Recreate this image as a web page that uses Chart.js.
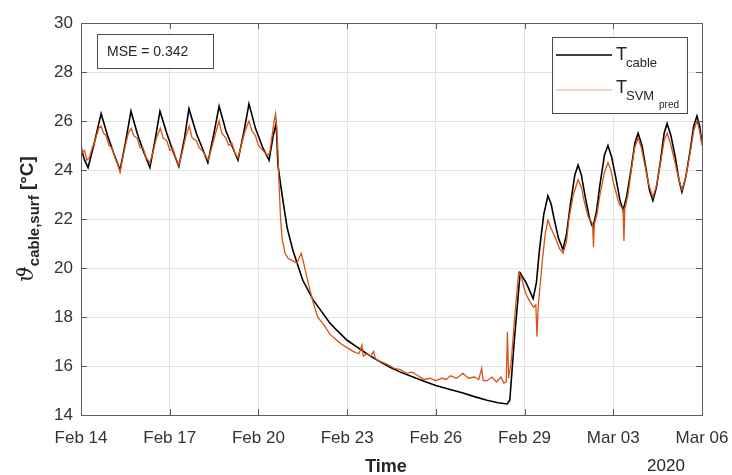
<!DOCTYPE html>
<html>
<head>
<meta charset="utf-8">
<script src="https://cdn.jsdelivr.net/npm/chart.js@4.4.1/dist/chart.umd.min.js"></script>
<style>
  body { margin: 0; background: #fff; }
  canvas { display: block; }
</style>
</head>
<body>
<canvas id="temp" width="732" height="475"></canvas>
<script>
// days since Feb 14 2020
var xTickLabels = ['Feb 14', 'Feb 17', 'Feb 20', 'Feb 23', 'Feb 26', 'Feb 29', 'Mar 03', 'Mar 06'];

var cableDay = [0, 0.12, 0.24, 0.45, 0.68, 0.9, 1.1, 1.32, 1.5, 1.69, 1.9, 2.1, 2.33, 2.5, 2.67, 2.9, 3.1, 3.31,
  3.5, 3.65, 3.9, 4.1, 4.29, 4.48, 4.67, 4.9, 5.1, 5.31, 5.5, 5.68, 5.9, 6.15, 6.36, 6.5, 6.6, 6.66, 6.75, 6.83,
  6.97, 7.17, 7.5, 7.85, 8.15, 8.42, 8.7, 9.0, 9.3, 9.67, 10.0, 10.45, 10.8, 11.23, 11.6, 12.0, 12.45, 12.92,
  13.3, 13.73, 14.1, 14.41, 14.5, 14.65, 14.85, 15.05, 15.29, 15.4, 15.5, 15.65, 15.79, 15.9, 16.0, 16.15, 16.3,
  16.42, 16.55, 16.7, 16.81, 16.92, 17.05, 17.2, 17.31, 17.43, 17.55, 17.7, 17.82, 17.95, 18.1, 18.22, 18.33,
  18.45, 18.6, 18.73, 18.84, 18.97, 19.1, 19.22, 19.34, 19.46, 19.6, 19.72, 19.82, 19.95, 20.1, 20.22, 20.32,
  20.45, 20.6, 20.72, 20.83, 20.92, 21.0];
var cableTemp = [24.9, 24.4, 24.1, 25.1, 26.3, 25.4, 24.7, 24.0, 25.1, 26.4, 25.5, 24.8, 24.1, 25.2, 26.4, 25.5,
  24.8, 24.15, 25.3, 26.5, 25.5, 24.9, 24.3, 25.4, 26.6, 25.6, 25.0, 24.4, 25.5, 26.7, 25.7, 24.9, 24.4, 25.4,
  25.9, 24.2, 23.4, 22.75, 21.65, 20.7, 19.5, 18.7, 18.2, 17.75, 17.4, 17.05, 16.8, 16.5, 16.25, 15.95, 15.75,
  15.55, 15.38, 15.2, 15.05, 14.9, 14.75, 14.6, 14.5, 14.45, 14.6, 17.0, 19.8, 19.4, 18.75, 19.4, 20.7, 22.2,
  22.95, 22.6, 22.0, 21.2, 20.75, 21.4, 22.6, 23.8, 24.2, 23.8, 22.9, 22.0, 21.65, 22.3, 23.4, 24.6, 25.0, 24.5,
  23.6, 22.8, 22.35, 22.9, 24.0, 25.1, 25.5, 25.0, 24.1, 23.2, 22.75, 23.3, 24.4, 25.5, 25.9, 25.4, 24.5, 23.6,
  23.1, 23.7, 24.8, 25.8, 26.2, 25.8, 25.1];

var predDay = [0, 0.06, 0.12, 0.2, 0.28, 0.38, 0.5, 0.6, 0.68, 0.76, 0.85, 0.95, 1.05, 1.15, 1.25, 1.32, 1.38,
  1.5, 1.6, 1.7, 1.78, 1.9, 2.0, 2.1, 2.2, 2.33, 2.45, 2.55, 2.68, 2.78, 2.9, 3.0, 3.1, 3.2, 3.31, 3.42, 3.55,
  3.66, 3.76, 3.9, 4.0, 4.1, 4.2, 4.3, 4.42, 4.55, 4.67, 4.76, 4.9, 5.0, 5.1, 5.2, 5.31, 5.42, 5.55, 5.68, 5.78,
  5.9, 6.0, 6.15, 6.3, 6.38, 6.45, 6.52, 6.58, 6.62, 6.66, 6.7, 6.75, 6.8, 6.9, 7.0, 7.15, 7.3, 7.45, 7.55, 7.7,
  7.85, 8.0, 8.2, 8.42, 8.6, 8.8, 9.0, 9.2, 9.4, 9.5, 9.55, 9.67, 9.8, 9.9, 9.95, 10.1, 10.3, 10.45, 10.6, 10.8,
  11.0, 11.2, 11.4, 11.6, 11.8, 12.0, 12.2, 12.35, 12.5, 12.7, 12.92, 13.1, 13.3, 13.45, 13.55, 13.6, 13.73,
  13.9, 14.05, 14.2, 14.3, 14.38, 14.42, 14.46, 14.55, 14.7, 14.8, 14.9, 15.0, 15.1, 15.2, 15.3, 15.38, 15.42,
  15.46, 15.6, 15.7, 15.79, 15.9, 16.05, 16.18, 16.3, 16.42, 16.5, 16.65, 16.81, 16.92, 17.0, 17.15, 17.3, 17.33,
  17.36, 17.45, 17.55, 17.7, 17.82, 17.92, 18.0, 18.2, 18.33, 18.36, 18.39, 18.5, 18.6, 18.72, 18.84, 18.95,
  19.05, 19.2, 19.34, 19.47, 19.6, 19.72, 19.82, 19.93, 20.05, 20.2, 20.32, 20.45, 20.6, 20.72, 20.83, 20.92, 21.0];
var predTemp = [25.0, 24.7, 24.8, 24.4, 24.5, 24.9, 25.3, 25.7, 25.8, 25.5, 25.4, 25.0, 24.9, 24.5, 24.2, 23.9,
  24.3, 25.0, 25.5, 25.7, 25.4, 25.3, 24.9, 24.9, 24.5, 24.3, 24.8, 25.3, 25.7, 25.3, 25.2, 24.8, 24.9, 24.5,
  24.2, 24.7, 25.4, 25.8, 25.3, 25.2, 24.9, 24.8, 24.6, 24.4, 24.9, 25.5, 26.0, 25.5, 25.3, 25.0, 25.1, 24.7,
  24.5, 25.0, 25.6, 26.0, 25.6, 25.4, 25.0, 24.8, 24.6, 24.7, 25.3, 25.9, 26.3, 25.7, 24.7, 23.3, 22.0, 21.2,
  20.6, 20.4, 20.3, 20.2, 20.6, 20.1, 19.3, 18.6, 18.0, 17.7, 17.3, 17.1, 16.9, 16.75, 16.6, 16.5, 16.85, 16.4,
  16.5, 16.4, 16.6, 16.3, 16.2, 16.1, 16.0, 15.9, 15.85, 15.7, 15.75, 15.6, 15.45, 15.5, 15.4, 15.5, 15.45, 15.6,
  15.5, 15.7, 15.5, 15.55, 15.45, 15.9, 15.4, 15.4, 15.55, 15.35, 15.55, 15.3, 15.35, 17.4, 15.5, 16.2, 18.5,
  19.8, 19.6, 19.1, 18.8, 18.6, 18.4, 18.5, 17.2, 18.4, 20.3, 21.4, 21.95, 21.6, 21.2, 20.8, 20.6, 21.1, 22.0,
  23.0, 23.6, 23.3, 22.8, 22.1, 21.8, 20.85, 21.8, 22.2, 23.0, 23.9, 24.3, 24.0, 23.5, 22.6, 22.4, 21.1, 22.4,
  23.0, 23.9, 24.9, 25.3, 24.9, 24.3, 23.4, 22.9, 23.4, 24.3, 25.2, 25.5, 25.1, 24.5, 23.7, 23.2, 23.7, 24.7,
  25.6, 26.0, 25.6, 25.0];

var mseText = 'MSE = 0.342';

function pts(xs, ys) {
  return xs.map(function (d, i) { return { x: d, y: ys[i] }; });
}

var orange = '#D95319';
var axisColor = '#5c5c5c';
var tickFont = { family: 'Liberation Sans, Arial, sans-serif', size: 17 };

// MATLAB style box, inward ticks, subscript labels, legend and text box
var decor = {
  id: 'decor',
  afterDraw: function (chart) {
    var ctx = chart.ctx, a = chart.chartArea;
    var sx = chart.scales.x, sy = chart.scales.y;
    ctx.save();
    ctx.strokeStyle = axisColor;
    ctx.lineWidth = 1;
    ctx.strokeRect(Math.round(a.left) + 0.5, Math.round(a.top) + 0.5,
      Math.round(a.right - a.left), Math.round(a.bottom - a.top));
    ctx.beginPath();
    sx.ticks.forEach(function (t) {
      var px = Math.round(sx.getPixelForValue(t.value)) + 0.5;
      ctx.moveTo(px, a.bottom); ctx.lineTo(px, a.bottom - 6);
      ctx.moveTo(px, a.top); ctx.lineTo(px, a.top + 6);
    });
    sy.ticks.forEach(function (t) {
      var py = Math.round(sy.getPixelForValue(t.value)) + 0.5;
      ctx.moveTo(a.left, py); ctx.lineTo(a.left + 6, py);
      ctx.moveTo(a.right, py); ctx.lineTo(a.right - 6, py);
    });
    ctx.stroke();

    // MSE box
    ctx.fillStyle = '#fff';
    ctx.fillRect(97, 34, 116, 34);
    ctx.strokeStyle = '#4d4d4d';
    ctx.strokeRect(97.5, 34.5, 116, 34);
    ctx.fillStyle = '#262626';
    ctx.font = '14px Liberation Sans, Arial, sans-serif';
    ctx.textBaseline = 'middle';
    ctx.textAlign = 'left';
    ctx.fillText(mseText, 107, 52);

    // legend
    ctx.fillStyle = '#fff';
    ctx.fillRect(552, 37, 135, 76);
    ctx.strokeStyle = '#4d4d4d';
    ctx.strokeRect(552.5, 37.5, 135, 76);
    ctx.lineWidth = 1.6;
    ctx.strokeStyle = '#000';
    ctx.beginPath(); ctx.moveTo(556, 55); ctx.lineTo(612, 55); ctx.stroke();
    ctx.lineWidth = 1.2;
    ctx.strokeStyle = '#eea47f';
    ctx.beginPath(); ctx.moveTo(556, 90); ctx.lineTo(612, 90); ctx.stroke();
    ctx.fillStyle = '#262626';
    ctx.textBaseline = 'alphabetic';
    ctx.font = '18px Liberation Sans, Arial, sans-serif';
    ctx.fillText('T', 616, 60);
    ctx.fillText('T', 616, 93);
    ctx.font = '13px Liberation Sans, Arial, sans-serif';
    ctx.fillText('cable', 626, 67);
    ctx.fillText('SVM', 626, 100);
    ctx.font = '10px Liberation Sans, Arial, sans-serif';
    ctx.fillText('pred', 659, 108);

    // x label and year
    ctx.font = 'bold 18px Liberation Sans, Arial, sans-serif';
    ctx.textAlign = 'center';
    ctx.fillText('Time', 386, 472);
    ctx.font = '17px Liberation Sans, Arial, sans-serif';
    ctx.fillText('2020', 666, 471);

    // y label, rotated, with subscript
    ctx.translate(34, 219);
    ctx.rotate(-Math.PI / 2);
    ctx.textAlign = 'left';
    var parts = [
      { t: '\u03D1', f: 'italic 22px DejaVu Serif, serif', dy: 0 },
      { t: 'cable,surf', f: 'bold 15px Liberation Sans, Arial, sans-serif', dy: 6 },
      { t: ' [\u00B0C]', f: 'bold 19px Liberation Sans, Arial, sans-serif', dy: 0 }
    ];
    var total = 0;
    parts.forEach(function (p) { ctx.font = p.f; p.w = ctx.measureText(p.t).width; total += p.w; });
    var cx = -total / 2;
    parts.forEach(function (p) {
      ctx.font = p.f;
      ctx.fillText(p.t, cx, p.dy - 1);
      cx += p.w;
    });
    ctx.restore();
  }
};

var ctx = document.getElementById('temp').getContext('2d');
var myChart = new Chart(ctx, {
  type: 'line',
  data: {
    datasets: [{
      label: 'T_SVMpred',
      data: pts(predDay, predTemp),
      borderColor: orange,
      borderWidth: 1.3,
      pointRadius: 0,
      tension: 0,
      order: 0
    }, {
      label: 'T_cable',
      data: pts(cableDay, cableTemp),
      borderColor: '#000',
      borderWidth: 1.6,
      pointRadius: 0,
      tension: 0,
      order: 1
    }]
  },
  options: {
    responsive: false,
    animation: false,
    layout: { padding: { top: 23, right: 30, left: 0, bottom: 0 } },
    plugins: { legend: { display: false }, tooltip: { enabled: false } },
    scales: {
      x: {
        type: 'linear',
        min: 0,
        max: 21,
        afterFit: function (s) { s.height = 60; s.paddingLeft = 0; s.paddingRight = 0; },
        ticks: {
          stepSize: 3,
          padding: 13,
          maxRotation: 0,
          color: '#333',
          font: tickFont,
          callback: function (v) { return xTickLabels[Math.round(v / 3)]; }
        },
        grid: { color: '#e3e3e3', drawTicks: false },
        border: { display: false }
      },
      y: {
        min: 14,
        max: 30,
        afterFit: function (s) { s.width = 81; s.paddingTop = 0; s.paddingBottom = 0; },
        ticks: { stepSize: 2, padding: 8, color: '#333', font: tickFont },
        grid: { color: '#e3e3e3', drawTicks: false },
        border: { display: false }
      }
    }
  },
  plugins: [decor]
});
</script>
</body>
</html>
